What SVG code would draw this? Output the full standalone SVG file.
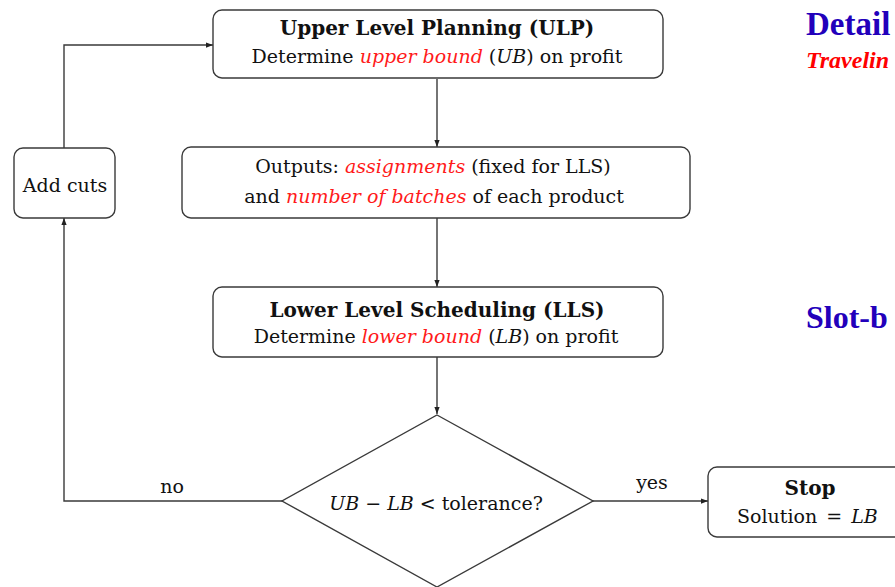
<svg xmlns="http://www.w3.org/2000/svg" width="895" height="587" viewBox="0 0 895 587">
  <style>
    .box { fill: #ffffff; stroke: #3a3a3a; stroke-width: 1.4; }
    .edge { fill: none; stroke: #3a3a3a; stroke-width: 1.4; }
    .t { font-family: "DejaVu Serif", "Liberation Serif", serif; font-size: 19px; fill: #111111; }
    .b { font-weight: bold; font-size: 20px; }
    .em { font-style: italic; fill: #ff1a1a; }
    .m { font-style: italic; }
    .side { font-family: "Liberation Serif", "Times New Roman", serif; font-weight: bold; }
  </style>
  <defs>
    <marker id="arrow" viewBox="0 0 8 8" refX="8" refY="4" markerWidth="7" markerHeight="7" markerUnits="userSpaceOnUse" orient="auto">
      <path d="M0,1 L8,4 L0,7 z" fill="#222222"/>
    </marker>
  </defs>

  <!-- connectors -->
  <g id="connectors">
    <line class="edge" x1="437" y1="79" x2="437" y2="147" marker-end="url(#arrow)"/>
    <line class="edge" x1="437" y1="218" x2="437" y2="287" marker-end="url(#arrow)"/>
    <line class="edge" x1="437" y1="357" x2="437" y2="414" marker-end="url(#arrow)"/>
    <polyline class="edge" points="282,501 64,501 64,218" marker-end="url(#arrow)"/>
    <polyline class="edge" points="64,148 64,45 213,45" marker-end="url(#arrow)"/>
    <line class="edge" x1="593" y1="501" x2="708" y2="501" marker-end="url(#arrow)"/>
    <text class="t" x="172" y="493" text-anchor="middle">no</text>
    <text class="t" x="652" y="489" text-anchor="middle">yes</text>
  </g>

  <!-- upper level planning -->
  <g id="ulp">
    <rect class="box" x="213" y="10" width="450" height="68" rx="9"/>
    <text class="t b" x="437" y="35" text-anchor="middle">Upper Level Planning (ULP)</text>
    <text class="t" x="437" y="63" text-anchor="middle">Determine <tspan class="em">upper bound</tspan> (<tspan class="m">UB</tspan>) on profit</text>
  </g>

  <!-- outputs -->
  <g id="outputs">
    <rect class="box" x="182" y="147" width="508" height="71" rx="9"/>
    <text class="t" x="433" y="173" text-anchor="middle">Outputs:  <tspan class="em">assignments</tspan> (fixed for LLS)</text>
    <text class="t" x="434" y="203" text-anchor="middle" font-size="18.5">and <tspan class="em">number of batches</tspan> of each product</text>
  </g>

  <!-- lower level scheduling -->
  <g id="lls">
    <rect class="box" x="213" y="287" width="450" height="70" rx="9"/>
    <text class="t b" x="437" y="317" text-anchor="middle">Lower Level Scheduling (LLS)</text>
    <text class="t" x="436" y="343" text-anchor="middle">Determine <tspan class="em">lower bound</tspan> (<tspan class="m">LB</tspan>) on profit</text>
  </g>

  <!-- add cuts -->
  <g id="addcuts">
    <rect class="box" x="14" y="148" width="101" height="70" rx="9"/>
    <text class="t" x="65" y="192" text-anchor="middle">Add cuts</text>
  </g>

  <!-- convergence test -->
  <g id="check">
    <polygon class="box" points="437,415 593,501 437,587 282,501"/>
    <text class="t" x="436" y="510" text-anchor="middle"><tspan class="m">UB</tspan> − <tspan class="m">LB</tspan> &lt; tolerance?</text>
  </g>

  <!-- stop -->
  <g id="stop">
    <rect class="box" x="708" y="467" width="230" height="70" rx="9"/>
    <text class="t b" x="810" y="495" text-anchor="middle">Stop</text>
    <text class="t" x="737" y="523" font-size="20.5" word-spacing="3">Solution = <tspan class="m">LB</tspan></text>
  </g>

  <!-- side headings -->
  <g id="headings">
    <text class="side" x="806" y="35" font-size="33" fill="#2200bb">Detail</text>
    <text class="side" x="806" y="68" font-size="24" font-style="italic" fill="#ff0000">Travelin</text>
    <text class="side" x="806" y="328" font-size="32" fill="#2200bb">Slot-b</text>
  </g>
</svg>
